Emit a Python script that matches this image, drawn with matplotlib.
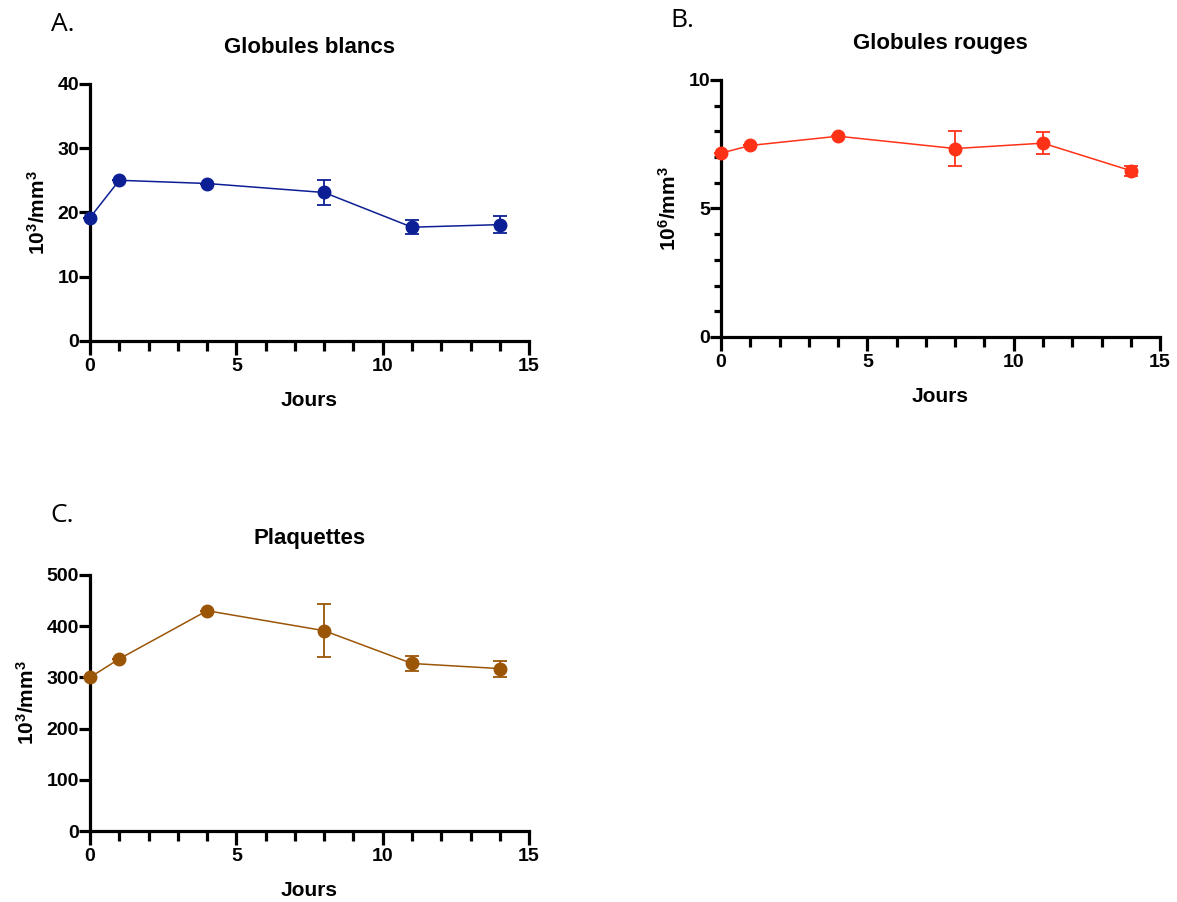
import numpy as np
import matplotlib
matplotlib.use("Agg")
import matplotlib.pyplot as plt
from matplotlib.ticker import MultipleLocator

plt.rcParams['font.family'] = ['Liberation Sans', 'DejaVu Sans']
plt.rcParams['font.weight'] = 'bold'
plt.rcParams['mathtext.fontset'] = 'custom'
plt.rcParams['mathtext.rm'] = 'Liberation Sans'
plt.rcParams['mathtext.bf'] = 'Liberation Sans:bold'

jours = [0, 1, 4, 8, 11, 14]

gb_moy = [19.2, 25.0, 24.5, 23.1, 17.7, 18.1]
gb_err = [0, 0, 0, 1.9, 1.05, 1.3]

gr_moy = [7.15, 7.45, 7.81, 7.33, 7.54, 6.47]
gr_err = [0, 0, 0, 0.68, 0.42, 0.2]

pl_moy = [300, 336, 430, 391, 327, 317]
pl_err = [0, 0, 0, 52, 14, 15.5]

panels = [
    ("A.", "Globules blancs", r"$\mathbf{10^{3}/mm^{3}}$", gb_moy, gb_err, "#0c1f94",
     (0, 40), 10, None, [0.0765, 0.622, 0.373, 0.285], -0.09),
    ("B.", "Globules rouges", r"$\mathbf{10^{6}/mm^{3}}$", gr_moy, gr_err, "#ff3217",
     (0, 10), 5, 1, [0.6126, 0.6264, 0.373, 0.285], -0.116),
    ("C.", "Plaquettes", r"$\mathbf{10^{3}/mm^{3}}$", pl_moy, pl_err, "#9b5507",
     (0, 500), 100, None, [0.0765, 0.0787, 0.373, 0.284], -0.09),
]

fig = plt.figure(figsize=(11.77, 9.02), dpi=100)

for lettre, titre, unite, moy, err, couleur, ylim, ymaj, ymin, pos, lx in panels:
    ax = fig.add_axes(pos)
    ax.errorbar(jours, moy, yerr=err, color=couleur, marker='o', markersize=9,
                linewidth=1.1, elinewidth=1.3, capsize=5, capthick=1.3,
                clip_on=False, zorder=5)
    ax.set_xlim(0, 15)
    ax.set_ylim(*ylim)
    for s in ['top', 'right']:
        ax.spines[s].set_visible(False)
    for s in ['left', 'bottom']:
        ax.spines[s].set_linewidth(2.3)
    ax.xaxis.set_major_locator(MultipleLocator(5))
    ax.xaxis.set_minor_locator(MultipleLocator(1))
    ax.yaxis.set_major_locator(MultipleLocator(ymaj))
    if ymin:
        ax.yaxis.set_minor_locator(MultipleLocator(ymin))
    ax.tick_params(axis='x', which='major', length=10, width=2.3, labelsize=14, pad=2)
    ax.tick_params(axis='x', which='minor', length=7, width=2.3)
    ax.tick_params(axis='y', which='major', length=8, width=2.3, labelsize=14, pad=0)
    ax.tick_params(axis='y', which='minor', length=5, width=2.3)
    for lab in ax.get_xticklabels() + ax.get_yticklabels():
        lab.set_fontweight('bold')
    ax.set_title(titre, fontsize=16, fontweight='bold', pad=22)
    ax.set_xlabel("Jours", fontsize=15, fontweight='bold', labelpad=12)
    ax.set_ylabel(unite, fontsize=15, fontweight='bold', labelpad=6)
    ax.text(lx, 1.23, lettre, transform=ax.transAxes, fontsize=19,
            fontweight='normal', family='Open Sans', va='center', ha='left')

fig.savefig("out.png", dpi=100)
